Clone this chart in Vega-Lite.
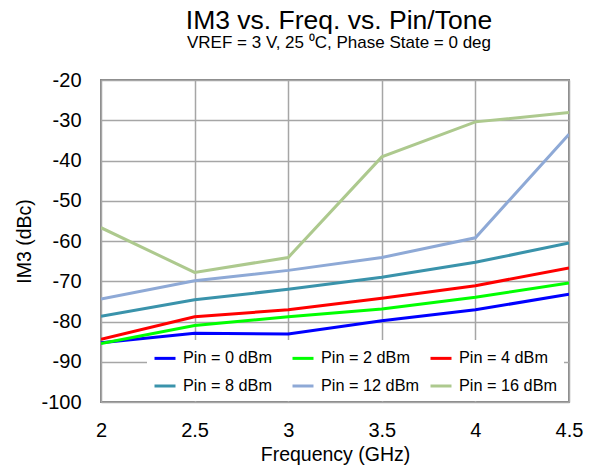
{
  "$schema": "https://vega.github.io/schema/vega-lite/v6.json",
  "autosize": "none",
  "width": 468,
  "height": 322,
  "padding": {"left": 101, "top": 80, "right": 26, "bottom": 71},
  "background": "white",
  "title": {
    "text": "IM3 vs. Freq. vs. Pin/Tone",
    "subtitle": "VREF = 3 V, 25 ⁰C, Phase State = 0 deg",
    "anchor": "middle",
    "font": "Liberation Sans",
    "fontSize": 26.5,
    "fontWeight": "normal",
    "color": "#000000",
    "subtitleFont": "Liberation Sans",
    "subtitleFontSize": 17,
    "subtitleColor": "#000000",
    "subtitlePadding": 1,
    "offset": 19,
    "dx": 4
  },
  "config": {
    "view": {"stroke": "#878787", "strokeWidth": 2},
    "axis": {
      "labelFont": "Liberation Sans",
      "titleFont": "Liberation Sans",
      "labelFontSize": 20,
      "titleFontSize": 19.5,
      "titleFontWeight": "normal",
      "labelColor": "#000000",
      "titleColor": "#000000",
      "gridColor": "#a6a6a6",
      "gridWidth": 1.5,
      "gridOpacity": 1,
      "domain": false,
      "ticks": false
    },
    "legend": {
      "labelFont": "Liberation Sans",
      "labelFontSize": 16.25,
      "labelColor": "#000000"
    }
  },
  "data": {
    "values": [
      {"series": "Pin = 0 dBm", "freq": 2.0, "im3": -85.3},
      {"series": "Pin = 0 dBm", "freq": 2.5, "im3": -82.9},
      {"series": "Pin = 0 dBm", "freq": 3.0, "im3": -83.1},
      {"series": "Pin = 0 dBm", "freq": 3.5, "im3": -79.8},
      {"series": "Pin = 0 dBm", "freq": 4.0, "im3": -77.1},
      {"series": "Pin = 0 dBm", "freq": 4.5, "im3": -73.2},
      {"series": "Pin = 2 dBm", "freq": 2.0, "im3": -85.5},
      {"series": "Pin = 2 dBm", "freq": 2.5, "im3": -81.0},
      {"series": "Pin = 2 dBm", "freq": 3.0, "im3": -78.8},
      {"series": "Pin = 2 dBm", "freq": 3.5, "im3": -76.9},
      {"series": "Pin = 2 dBm", "freq": 4.0, "im3": -74.0},
      {"series": "Pin = 2 dBm", "freq": 4.5, "im3": -70.4},
      {"series": "Pin = 4 dBm", "freq": 2.0, "im3": -84.4},
      {"series": "Pin = 4 dBm", "freq": 2.5, "im3": -78.8},
      {"series": "Pin = 4 dBm", "freq": 3.0, "im3": -77.1},
      {"series": "Pin = 4 dBm", "freq": 3.5, "im3": -74.2},
      {"series": "Pin = 4 dBm", "freq": 4.0, "im3": -71.1},
      {"series": "Pin = 4 dBm", "freq": 4.5, "im3": -66.7},
      {"series": "Pin = 8 dBm", "freq": 2.0, "im3": -78.7},
      {"series": "Pin = 8 dBm", "freq": 2.5, "im3": -74.6},
      {"series": "Pin = 8 dBm", "freq": 3.0, "im3": -72.0},
      {"series": "Pin = 8 dBm", "freq": 3.5, "im3": -69.0},
      {"series": "Pin = 8 dBm", "freq": 4.0, "im3": -65.3},
      {"series": "Pin = 8 dBm", "freq": 4.5, "im3": -60.5},
      {"series": "Pin = 12 dBm", "freq": 2.0, "im3": -74.4},
      {"series": "Pin = 12 dBm", "freq": 2.5, "im3": -69.9},
      {"series": "Pin = 12 dBm", "freq": 3.0, "im3": -67.3},
      {"series": "Pin = 12 dBm", "freq": 3.5, "im3": -64.1},
      {"series": "Pin = 12 dBm", "freq": 4.0, "im3": -59.2},
      {"series": "Pin = 12 dBm", "freq": 4.5, "im3": -33.5},
      {"series": "Pin = 16 dBm", "freq": 2.0, "im3": -56.7},
      {"series": "Pin = 16 dBm", "freq": 2.5, "im3": -67.8},
      {"series": "Pin = 16 dBm", "freq": 3.0, "im3": -64.1},
      {"series": "Pin = 16 dBm", "freq": 3.5, "im3": -39.1},
      {"series": "Pin = 16 dBm", "freq": 4.0, "im3": -30.4},
      {"series": "Pin = 16 dBm", "freq": 4.5, "im3": -28.1}
    ]
  },
  "mark": {"type": "line", "clip": true},
  "encoding": {
    "x": {
      "field": "freq",
      "type": "quantitative",
      "title": "Frequency (GHz)",
      "scale": {"domain": [2, 4.5], "nice": false, "zero": false},
      "axis": {"values": [2, 2.5, 3, 3.5, 4, 4.5], "format": "~f", "labelPadding": 18, "titlePadding": 5, "labelFlush": false}
    },
    "y": {
      "field": "im3",
      "type": "quantitative",
      "title": "IM3 (dBc)",
      "scale": {"domain": [-100, -20], "nice": false, "zero": false},
      "axis": {"values": [-100, -90, -80, -70, -60, -50, -40, -30, -20], "labelExpr": "replace(datum.label, '−', '-')", "labelPadding": 20, "titlePadding": 6}
    },
    "color": {
      "field": "series",
      "type": "nominal",
      "title": null,
      "scale": {
        "domain": ["Pin = 0 dBm", "Pin = 2 dBm", "Pin = 4 dBm", "Pin = 8 dBm", "Pin = 12 dBm", "Pin = 16 dBm"],
        "range": ["#0000ff", "#00ff00", "#ff0000", "#3a93ab", "#8ea9d6", "#adc98e"]
      },
      "legend": {
        "orient": "none",
        "direction": "horizontal",
        "legendX": 46,
        "legendY": 260,
        "columns": 3,
        "gridAlign": "all",
        "columnPadding": 4,
        "rowPadding": 7,
        "padding": 6,
        "fillColor": "white",
        "symbolType": "stroke",
        "symbolSize": 441,
        "labelOffset": 6
      }
    },
    "strokeWidth": {
      "field": "series",
      "type": "nominal",
      "title": null,
      "scale": {
        "domain": ["Pin = 0 dBm", "Pin = 2 dBm", "Pin = 4 dBm", "Pin = 8 dBm", "Pin = 12 dBm", "Pin = 16 dBm"],
        "range": [3, 3, 3, 2, 2, 2]
      }
    }
  }
}
